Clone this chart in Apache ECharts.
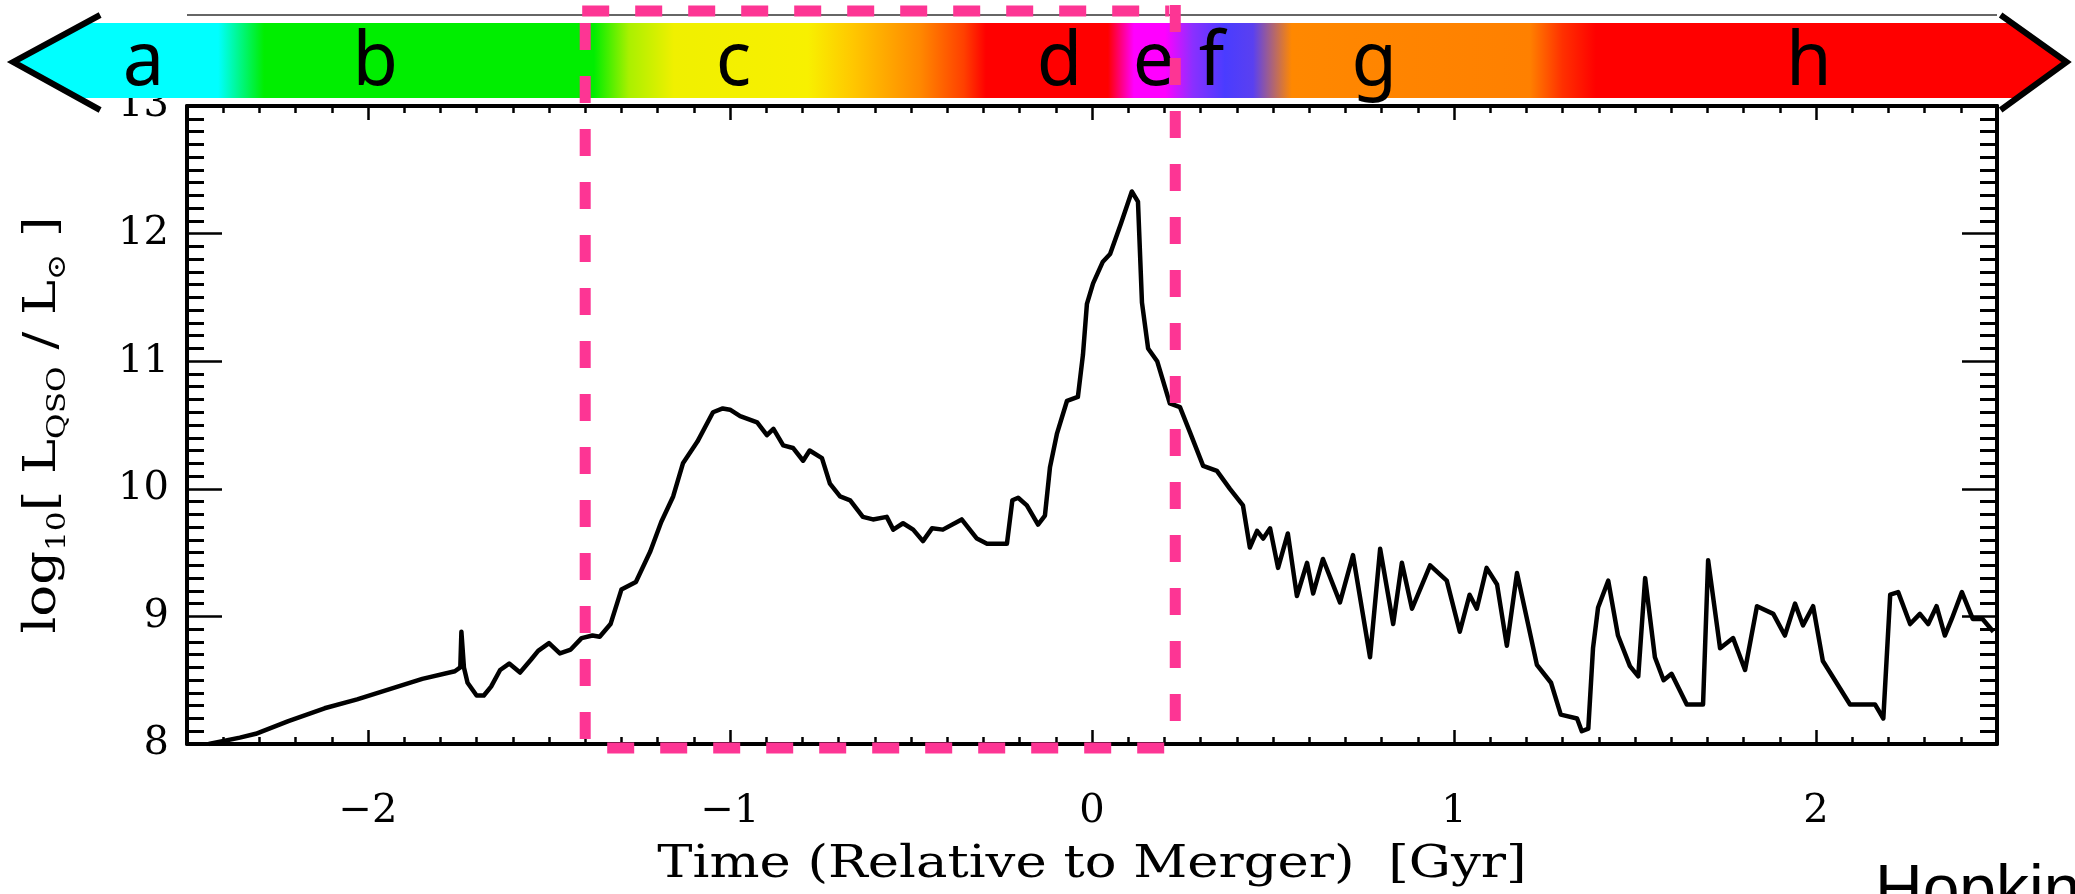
<!DOCTYPE html>
<html><head><meta charset="utf-8">
<script src="https://cdn.jsdelivr.net/npm/echarts@6/dist/echarts.min.js"></script>
<style>html,body{margin:0;padding:0;background:#fff}#c{width:2075px;height:894px}</style>
</head><body><div id="c"></div>
<script>
// ---- data ----
const timeGyr = [
 -2.44,-2.354,-2.31,-2.22,-2.12,-2.03,-1.94,-1.85,-1.76,-1.745,-1.742,-1.735,-1.725,-1.70,-1.68,-1.66,-1.635,-1.61,-1.58,-1.55,-1.53,-1.50,-1.47,-1.44,-1.41,-1.38,-1.36,-1.33,-1.30,-1.26,-1.22,-1.19,-1.157,-1.13,-1.09,-1.047,-1.02,-1.00,-0.972,-0.925,-0.898,-0.88,-0.853,-0.826,-0.798,-0.78,-0.746,-0.724,-0.696,-0.668,-0.633,-0.605,-0.567,-0.549,-0.522,-0.494,-0.467,-0.442,-0.412,-0.36,-0.318,-0.29,-0.235,-0.22,-0.204,-0.18,-0.149,-0.13,-0.116,-0.097,-0.069,-0.039,-0.025,-0.014,0.003,0.030,0.05,0.08,0.11,0.127,0.138,0.155,0.18,0.215,0.243,0.271,0.307,0.345,0.381,0.417,0.436,0.456,0.473,0.492,0.514,0.541,0.566,0.594,0.611,0.638,0.685,0.721,0.768,0.796,0.832,0.856,0.884,0.934,0.98,1.016,1.043,1.063,1.09,1.119,1.146,1.174,1.229,1.268,1.295,1.34,1.353,1.371,1.384,1.398,1.426,1.453,1.486,1.509,1.528,1.555,1.579,1.601,1.643,1.688,1.702,1.735,1.771,1.804,1.837,1.882,1.914,1.942,1.964,1.992,2.019,2.094,2.163,2.186,2.205,2.227,2.26,2.287,2.31,2.333,2.356,2.375,2.403,2.433,2.46,2.49
];
const logLqso = [
 8.00,8.05,8.08,8.18,8.28,8.35,8.43,8.51,8.57,8.60,8.88,8.60,8.48,8.38,8.38,8.45,8.58,8.63,8.56,8.66,8.73,8.79,8.71,8.74,8.83,8.85,8.84,8.94,9.21,9.27,9.51,9.74,9.94,10.20,10.37,10.60,10.63,10.62,10.57,10.52,10.42,10.47,10.34,10.32,10.22,10.30,10.24,10.04,9.94,9.91,9.78,9.76,9.78,9.68,9.73,9.68,9.59,9.69,9.68,9.76,9.61,9.57,9.57,9.91,9.93,9.87,9.72,9.79,10.17,10.43,10.69,10.72,11.05,11.45,11.61,11.78,11.84,12.08,12.33,12.25,11.46,11.10,11.00,10.67,10.64,10.44,10.18,10.14,10.00,9.87,9.54,9.67,9.61,9.69,9.38,9.65,9.16,9.42,9.18,9.45,9.11,9.48,8.68,9.53,8.94,9.42,9.06,9.40,9.28,8.88,9.17,9.06,9.38,9.25,8.77,9.34,8.62,8.48,8.23,8.20,8.10,8.12,8.75,9.07,9.28,8.85,8.61,8.53,9.30,8.68,8.50,8.55,8.31,8.31,9.44,8.75,8.83,8.58,9.08,9.02,8.85,9.10,8.93,9.08,8.65,8.31,8.31,8.20,9.17,9.19,8.94,9.02,8.94,9.08,8.85,8.98,9.19,8.98,8.98,8.88
];
const xTickValues = [-2, -1, 0, 1, 2];
const yTickValues = [8, 9, 10, 11, 12, 13];
const phaseLabels = ['a','b','c','d','e','f','g','h'];
const phaseLabelTimes = [-2.62, -1.98, -0.99, -0.09, 0.17, 0.33, 0.78, 1.98];
const phaseStopTimes = [-2.74,-2.414,-2.287,-1.376,-1.279,-1.155,-0.785,-0.663,-0.475,-0.354,-0.293,0.044,0.116,0.202,0.279,0.367,0.445,0.552,1.21,1.30,1.392,2.51];
const phaseStopColors = ['#00ffff','#00ffff','#00ee00','#00ee00','#aaf000','#f0f000','#f8f000','#ffc800','#ff8800','#ff4000','#ff0000','#ff0000','#ff00ff','#ff00ff','#8a30ff','#4a3cff','#5a40f0','#ff8800','#ff8000','#ff3000','#ff0000','#ff0000'];
const highlightRange = [-1.40, 0.23];
const xTitle = 'Time (Relative to Merger)  [Gyr]';
const yTitleRich = '{m|log}{s|10}{m|[ L}{s|QSO}{m| / L}{s|\u2299}{m| ]}';
const credit = 'Hopkins';

// ---- chart ----
const chart = echarts.init(document.getElementById('c'), null, {renderer: 'canvas'});
const serif = 'DejaVu Serif';
const fmtX = v => {
  if (Math.abs(v - Math.round(v)) > 1e-6) return '';
  const r = Math.round(v);
  return r < 0 ? '\u2212' + Math.abs(r) : String(r);
};
const lineBlack = {color: '#000', width: 4};
const tickStyle = {color: '#000', width: 2.5};
const labelFont = {color: '#000', fontFamily: serif, fontSize: 40};
function xAxisPair(pos, labels) {
  return [
    {type: 'value', position: pos, min: -2.5, max: 2.5, interval: 0.1,
     axisLine: {show: true, onZero: false, lineStyle: lineBlack},
     axisTick: {show: true, inside: true, length: 7, lineStyle: tickStyle},
     axisLabel: Object.assign({show: labels, formatter: fmtX, margin: 48}, labelFont),
     splitLine: {show: false}},
    {type: 'value', position: pos, min: -2.5, max: 2.5,
     axisLine: {show: false, onZero: false},
     axisTick: {show: true, inside: true, length: 14, customValues: xTickValues, lineStyle: tickStyle},
     axisLabel: {show: false}, splitLine: {show: false}}
  ];
}
function yAxisCfg(pos, labels) {
  return {type: 'value', position: pos, min: yTickValues[0], max: yTickValues[yTickValues.length - 1], interval: 1,
    axisLine: {show: true, onZero: false, lineStyle: lineBlack},
    axisTick: {show: true, inside: true, length: 35, lineStyle: tickStyle},
    minorTick: {show: true, splitNumber: 10, length: 17, lineStyle: {color: '#000', width: 3}},
    axisLabel: Object.assign({show: labels, margin: 18}, labelFont),
    splitLine: {show: false}};
}

chart.setOption({
  animation: false,
  backgroundColor: '#fff',
  grid: {left: 187, top: 106, width: 1810, height: 638, containLabel: false},
  xAxis: [...xAxisPair('bottom', true), ...xAxisPair('top', false)],
  yAxis: [yAxisCfg('left', true), yAxisCfg('right', false)],
  series: [{
    type: 'line', xAxisIndex: 0, yAxisIndex: 0, showSymbol: false, symbol: 'none',
    data: timeGyr.map((t, i) => [t, logLqso[i]]),
    lineStyle: {color: '#000', width: 4.5, join: 'round'}, clip: true, z: 3
  }]
});

// ---- decorations positioned through the scales ----
const px = t => chart.convertToPixel({xAxisIndex: 0}, t);
const py = v => chart.convertToPixel({yAxisIndex: 0}, v);
const gL = px(-2.5), gR = px(2.5);
const gT = py(13), gB = py(8);
const bx0 = px(phaseStopTimes[0]), bx1 = px(phaseStopTimes[phaseStopTimes.length - 1]);
const barTop = 23, barBot = 98, arrowTop = 15, arrowBot = 110, arrowMid = 62;
const stops = phaseStopTimes.map((t, i) => ({offset: Math.min(1, Math.max(0, (px(t) - bx0) / (bx1 - bx0))), color: phaseStopColors[i]}));
const pink = '#fd3594';
const g = [];
g.push({type: 'line', shape: {x1: gL, y1: 15, x2: gR, y2: 15}, style: {stroke: '#666', lineWidth: 2}, z: 1});
g.push({type: 'rect', shape: {x: bx0, y: barTop, width: bx1 - bx0, height: barBot - barTop},
  style: {fill: {type: 'linear', x: 0, y: 0, x2: 1, y2: 0, colorStops: stops}}, z: 2});
g.push({type: 'polygon', shape: {points: [[bx0 + 1, barTop], [bx0 - 15, barTop], [bx0 - 84, arrowMid], [bx0 - 22, barBot], [bx0 + 1, barBot]]},
  style: {fill: phaseStopColors[0]}, z: 2});
g.push({type: 'polyline', shape: {points: [[bx0, arrowTop], [bx0 - 87, arrowMid], [bx0, arrowBot]]},
  style: {stroke: '#000', lineWidth: 6, fill: null}, z: 3});
g.push({type: 'polygon', shape: {points: [[bx1 - 1, barTop], [bx1 + 11, barTop], [bx1 + 64, arrowMid], [bx1 + 17, barBot], [bx1 - 1, barBot]]},
  style: {fill: phaseStopColors[phaseStopColors.length - 1]}, z: 2});
g.push({type: 'polyline', shape: {points: [[bx1, arrowTop], [bx1 + 66, arrowMid], [bx1, arrowBot]]},
  style: {stroke: '#000', lineWidth: 6, fill: null}, z: 3});
phaseLabels.forEach((s, i) => {
  g.push({type: 'text', x: px(phaseLabelTimes[i]), y: 64, z: 4,
    style: {text: s, fill: '#000', font: '74px "Noto Sans"', textAlign: 'center', textVerticalAlign: 'middle', verticalAlign: 'middle'}});
});
// axis titles (wide, IDL-like lettering)
g.push({type: 'text', x: (gL + gR) / 2, y: 866, scaleX: 1.2, z: 5,
  style: {text: xTitle, fill: '#000', fontFamily: serif, fontSize: 44, align: 'center', verticalAlign: 'middle'}});
g.push({type: 'text', x: 44, y: (gT + gB) / 2, rotation: Math.PI / 2, scaleX: 1.2, z: 5,
  style: {text: yTitleRich, fill: '#000', align: 'center', verticalAlign: 'middle',
    rich: {
      m: {fontFamily: serif, fontSize: 44, lineHeight: 54, verticalAlign: 'middle', fill: '#000'},
      s: {fontFamily: serif, fontSize: 26, lineHeight: 26, verticalAlign: 'bottom', fill: '#000'}
    }}});
// highlight box
const hx0 = px(highlightRange[0]), hx1 = px(highlightRange[1]);
const dash = [27, 26];
const pst = {stroke: pink, lineWidth: 11, lineDash: dash, lineCap: 'butt'};
g.push({type: 'line', shape: {x1: hx0, y1: 23, x2: hx0, y2: gB}, style: pst, z: 10});
g.push({type: 'line', shape: {x1: hx1, y1: 5, x2: hx1, y2: gB}, style: pst, z: 10});
g.push({type: 'line', shape: {x1: hx0 - 3, y1: 11, x2: hx1 - 6, y2: 11}, style: pst, z: 10});
g.push({type: 'line', shape: {x1: hx0 + 22, y1: gB + 4, x2: hx1, y2: gB + 4}, style: pst, z: 10});
// credit
g.push({type: 'text', x: 1875, y: 860, z: 5,
  style: {text: credit, fill: '#000', font: '66px "Liberation Sans"', textAlign: 'left', textVerticalAlign: 'top', verticalAlign: 'top'}});
chart.setOption({graphic: g});
</script></body></html>
